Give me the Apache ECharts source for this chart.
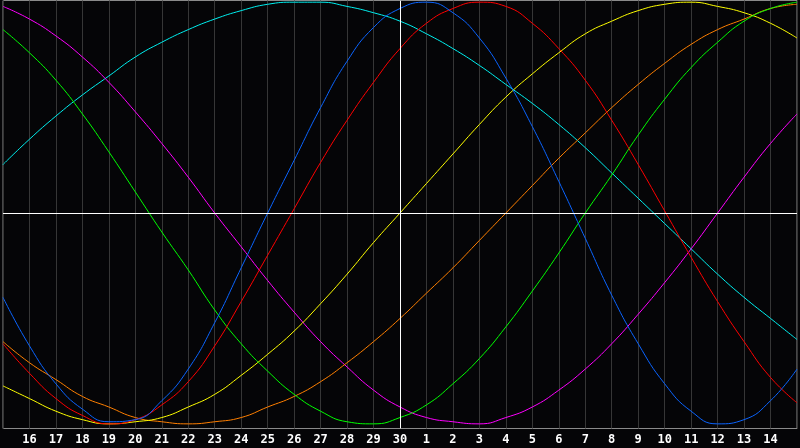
<!DOCTYPE html>
<html>
<head>
<meta charset="utf-8">
<script src="https://cdn.jsdelivr.net/npm/echarts@6/dist/echarts.min.js"></script>
<style>
html,body{margin:0;padding:0;background:#050507;}
#chart{width:800px;height:448px;}
</style>
</head>
<body>
<div id="chart"></div>
<script>
// Day labels for positions 0..30 (first and last are not shown)
const dayLabels = ['15','16','17','18','19','20','21','22','23','24','25','26','27','28','29','30',
  '1','2','3','4','5','6','7','8','9','10','11','12','13','14','15'];

// Curve values (percent) read at each day position 0..30
const blueVals    = [-40,-63,-81,-93,-99,-98,-89,-74,-52,-26,0,25,50,72,88,97,100,95,83,64,41,15,-12,-39,-62,-81,-94,-100,-98,-89,-74];
const redVals     = [-62,-76,-88,-96,-100,-98,-91,-80,-63,-42,-20,2,24,44,62,78,90,97,100,98,90,78,63,44,23,1,-21,-42,-61,-78,-90];
const greenVals   = [87,76,63,47,29,10,-9,-27,-46,-62,-75,-86,-94,-99,-100,-97,-91,-81,-69,-54,-37,-19,0,18,37,54,69,81,91,97,100];
const yellowVals  = [-82,-88,-94,-98,-100,-99,-97,-92,-86,-77,-67,-56,-43,-29,-14,0,14,28,42,55,66,76,85,91,96,99,100,98,95,90,83];
const orangeVals  = [-61,-71,-79,-87,-92,-97,-99,-100,-99,-97,-92,-87,-80,-71,-61,-50,-38,-26,-13,0,13,26,38,50,61,71,80,87,92,97,99];
const magentaVals = [98,92,84,74,62,48,33,17,0,-16,-32,-47,-61,-73,-84,-92,-97,-99,-100,-97,-92,-84,-74,-62,-48,-33,-17,0,17,33,47];
const cyanVals    = [23,35,46,56,65,74,81,87,92,96,99,100,100,98,95,91,85,78,70,61,52,42,31,19,7,-5,-17,-29,-40,-50,-60];

const curves = [
  {name:'cyan', color:'#00f0f0', vals:cyanVals},
  {name:'magenta', color:'#ff00ff', vals:magentaVals},
  {name:'orange', color:'#ff7f00', vals:orangeVals},
  {name:'yellow', color:'#ffff00', vals:yellowVals},
  {name:'green', color:'#00ff00', vals:greenVals},
  {name:'red', color:'#ff0000', vals:redVals},
  {name:'blue', color:'#0a64ff', vals:blueVals}
];

const todayIndex = 15;

const chart = echarts.init(document.getElementById('chart'), null, {renderer:'canvas'});

const series = [{
  type:'line', data:[], z:1, silent:true,
  markLine:{
    silent:true, symbol:'none', animation:false,
    label:{show:false},
    lineStyle:{color:'#ffffff', width:1, type:'solid'},
    data:[{xAxis:todayIndex},{yAxis:0}]
  }
}];
curves.forEach(c => {
  series.push({
    name:c.name, type:'line', z:3,
    data:c.vals.map((v,i)=>[i,v]),
    smooth:true, showSymbol:false, symbol:'none',
    lineStyle:{color:c.color, width:1},
    itemStyle:{color:c.color},
    animation:false
  });
});

chart.setOption({
  backgroundColor:'#050507',
  animation:false,
  grid:{left:0.5, top:0.5, width:799, height:428, show:true, borderColor:'#8a8a8a', borderWidth:1, backgroundColor:'#050507'},
  xAxis:{
    type:'value', min:0, max:30, interval:1,
    axisLine:{show:false}, axisTick:{show:false},
    splitLine:{show:true, lineStyle:{color:'#363636', width:1}},
    axisLabel:{
      show:true, color:'#ffffff', fontFamily:'DejaVu Sans Mono', fontWeight:'bold', fontSize:12, margin:5,
      formatter:function(v){ const i=Math.round(v); return (i<=0||i>=30)?'':dayLabels[i]; }
    }
  },
  yAxis:{
    type:'value', min:-102.2, max:100.8,
    axisLine:{show:false}, axisTick:{show:false}, axisLabel:{show:false}, splitLine:{show:false}
  },
  series:series
});
</script>
</body>
</html>
